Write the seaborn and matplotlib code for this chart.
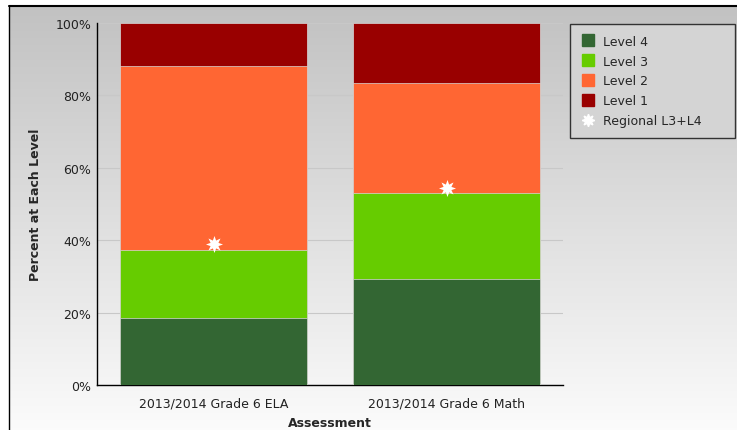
import numpy as np
import pandas as pd
import matplotlib
matplotlib.use("Agg")
import matplotlib.pyplot as plt
from matplotlib.lines import Line2D
import seaborn as sns

categories = ["2013/2014 Grade 6 ELA", "2013/2014 Grade 6 Math"]
level4 = [18.5, 29.3]
level3 = [18.8, 23.7]
level2 = [50.7, 30.3]
level1 = [12.0, 16.7]
regional = [39.0, 54.3]
yticks = [0, 20, 40, 60, 80, 100]
ytick_labels = ["0%", "20%", "40%", "60%", "80%", "100%"]

colors = {"Level 4": "#336633", "Level 3": "#66cc00", "Level 2": "#ff6633", "Level 1": "#990000"}

sns.set_style("white")
plt.rcParams["font.family"] = ["DejaVu Sans"]

fig = plt.figure(figsize=(7.37, 4.31), dpi=100)

# background gradient inside frame
bg = fig.add_axes([9/737, 0, 1 - 9/737, 1 - 7/431], zorder=-10)
grad = np.linspace(0.76, 0.985, 256).reshape(-1, 1)
bg.imshow(np.dstack([grad, grad, grad]), aspect="auto", extent=[0, 1, 0, 1], origin="upper")
bg.set_axis_off()

# frame lines
fig.add_artist(Line2D([9/737, 1], [1 - 7/431, 1 - 7/431], color="black", lw=1.5, transform=fig.transFigure))
fig.add_artist(Line2D([9/737, 9/737], [0, 1 - 7/431], color="black", lw=1.0, transform=fig.transFigure))

ax = fig.add_axes([97/737, 1 - 386/431, 466/737, 362/431])
ax.patch.set_alpha(0)

df = pd.DataFrame({"cat": categories, "l4": level4, "l3": level3, "l2": level2, "l1": level1})
df["c4"] = df["l4"]
df["c3"] = df["c4"] + df["l3"]
df["c2"] = df["c3"] + df["l2"]
df["c1"] = df["c2"] + df["l1"]

for col, name in [("c1", "Level 1"), ("c2", "Level 2"), ("c3", "Level 3"), ("c4", "Level 4")]:
    sns.barplot(data=df, x="cat", y=col, color=colors[name], saturation=1, width=0.8,
                edgecolor="#d8d8d8", linewidth=0.5, ax=ax, zorder=3)

star = (8, 1, 0)
ax.scatter(range(len(categories)), regional, marker=star, s=150, color="white", zorder=5, linewidths=0)

ax.set_xlim(-0.5, 1.5)
ax.set_ylim(0, 100)
ax.set_yticks(yticks)
ax.set_yticklabels(ytick_labels, fontsize=9, color="#222222")
ax.tick_params(axis="x", labelsize=9, length=0, pad=8, labelcolor="#222222")
ax.tick_params(axis="y", length=0, pad=4)
ax.grid(axis="y", color="#c8c8c8", lw=0.8, zorder=0)
ax.set_axisbelow(True)
for s in ["top", "right"]:
    ax.spines[s].set_visible(False)
for s in ["left", "bottom"]:
    ax.spines[s].set_color("black")
    ax.spines[s].set_linewidth(1.0)
ax.set_xlabel("Assessment", fontsize=9, fontweight="bold", labelpad=5)
ax.set_ylabel("Percent at Each Level", fontsize=9, fontweight="bold", labelpad=10)

handles = [Line2D([], [], marker="s", ls="none", color=colors[n], markersize=9) for n in ["Level 4", "Level 3", "Level 2", "Level 1"]]
handles.append(Line2D([], [], marker=star, ls="none", color="white", markersize=9))
labels = ["Level 4", "Level 3", "Level 2", "Level 1", "Regional L3+L4"]
leg = fig.legend(handles, labels, loc="upper left",
                 bbox_to_anchor=(570/737, 1 - 25/431 - 0.01, 165/737, 0.01),
                 mode="expand", fontsize=9, frameon=True, fancybox=False, borderpad=0.85,
                 labelspacing=0.55, handletextpad=0.6, handlelength=1.2, borderaxespad=0)
leg.get_frame().set_facecolor("#d4d4d4")
leg.get_frame().set_edgecolor("#333333")
leg.get_frame().set_linewidth(1.0)
leg.get_frame().set_alpha(1)

fig.savefig("out.png", dpi=100)
